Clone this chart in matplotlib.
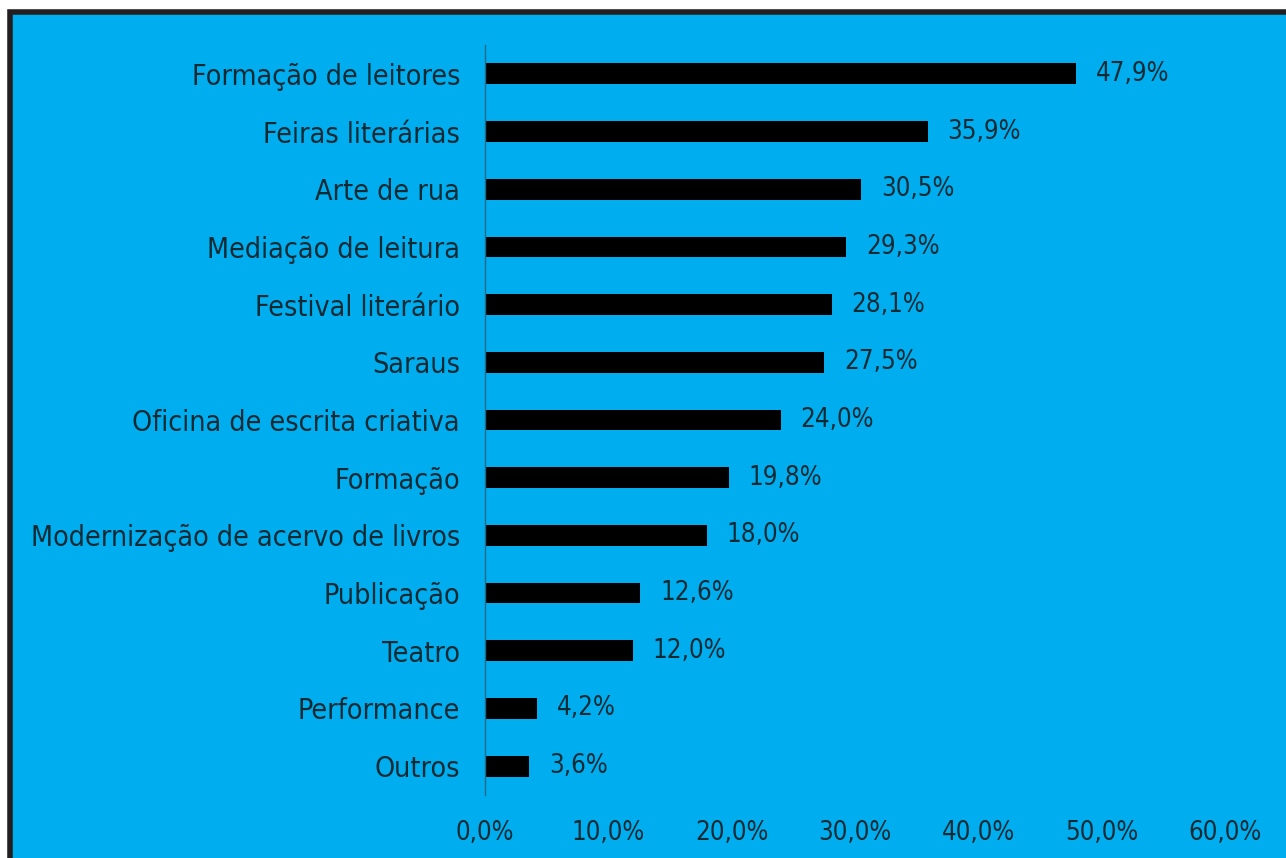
import matplotlib
matplotlib.use("Agg")
from matplotlib import pyplot as plt
from matplotlib.patches import Rectangle
from matplotlib import font_manager

categories = ["Formação de leitores", "Feiras literárias", "Arte de rua",
              "Mediação de leitura", "Festival literário", "Saraus",
              "Oficina de escrita criativa", "Formação",
              "Modernização de acervo de livros", "Publicação", "Teatro",
              "Performance", "Outros"]
values = [47.9, 35.9, 30.5, 29.3, 28.1, 27.5, 24.0, 19.8, 18.0, 12.6, 12.0, 4.2, 3.6]
x_ticks = [0, 10, 20, 30, 40, 50, 60]

blue = "#00AEEF"
ink = "#0f2a33"
fp = font_manager.FontProperties(family="DejaVu Sans", stretch="condensed", size=20.5)
fp_num = font_manager.FontProperties(family="DejaVu Sans", stretch="condensed", size=18.5)

W, H = 1286, 858
fig = plt.figure(figsize=(W / 100, H / 100), dpi=100)
fig.patch.set_facecolor("white")

# blue panel with dark frame (cut at right and bottom)
fig.patches.append(Rectangle((10 / W, -0.1), 1.2, (H - 12) / H + 0.1, transform=fig.transFigure,
                             facecolor=blue, edgecolor="#231f20", linewidth=4, zorder=-5))

ax = fig.add_axes([485 / W, (H - 795) / H, 740 / W, 750 / H])
ax.set_zorder(5)
ax.set_facecolor("none")
y = list(range(len(categories)))
ax.barh(y, values, height=0.36, color="black")
ax.set_ylim(len(categories) - 0.5, -0.5)
ax.set_xlim(0, 60)

ax.set_yticks(y)
ax.set_yticklabels(categories, color=ink, fontproperties=fp)
ax.set_xticks(x_ticks)
ax.set_xticklabels([f"{t:.1f}%".replace(".", ",") for t in x_ticks],
                   color=ink, fontproperties=fp_num)
ax.tick_params(axis="y", length=0, pad=18)
ax.tick_params(axis="x", length=0, pad=18)

for s in ["top", "right", "bottom"]:
    ax.spines[s].set_visible(False)
ax.spines["left"].set_color("#1b6a8a")
ax.spines["left"].set_linewidth(1)

for yi, v in zip(y, values):
    ax.text(v + 1.6, yi, f"{v:.1f}%".replace(".", ","), va="center", ha="left",
            color=ink, fontproperties=fp_num)

fig.savefig("out.png", dpi=100, facecolor=fig.get_facecolor())
